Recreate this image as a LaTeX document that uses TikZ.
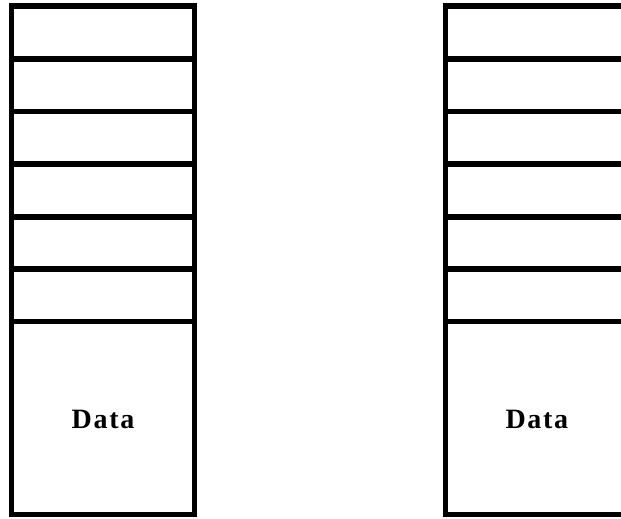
\documentclass[tikz,border=0pt]{standalone}
\usepackage{fontspec}
\setmainfont{Liberation Serif}
\newfontfamily\datafont[LetterSpace=6]{Liberation Serif}
\tikzset{
  frameline/.style={line width=5.5pt, line cap=butt, line join=miter},
  datalabel/.style={font=\datafont\bfseries\fontsize{28}{30}\selectfont, inner sep=0pt}
}
\begin{document}
\begin{tikzpicture}[x=1pt, y=-1pt]
  \useasboundingbox (0,0) rectangle (621,519);
  \clip (0,0) rectangle (621,519);
  % two stacks of header cells above a tall data cell
  \foreach \name/\xl in {left/11.5, right/445.3} {
    \pgfmathsetmacro{\xr}{\xl+183}
    \draw[frameline] (\xl,6) rectangle (\xr,514.7);
    \foreach \yy in {59,111.5,164,216.8,269.2,321.7} {
      \draw[frameline] (\xl,\yy) -- (\xr,\yy);
    }
    \node[datalabel] (data-\name) at ({(\xl+\xr)/2}, 419) {Data};
  }
\end{tikzpicture}
\end{document}
